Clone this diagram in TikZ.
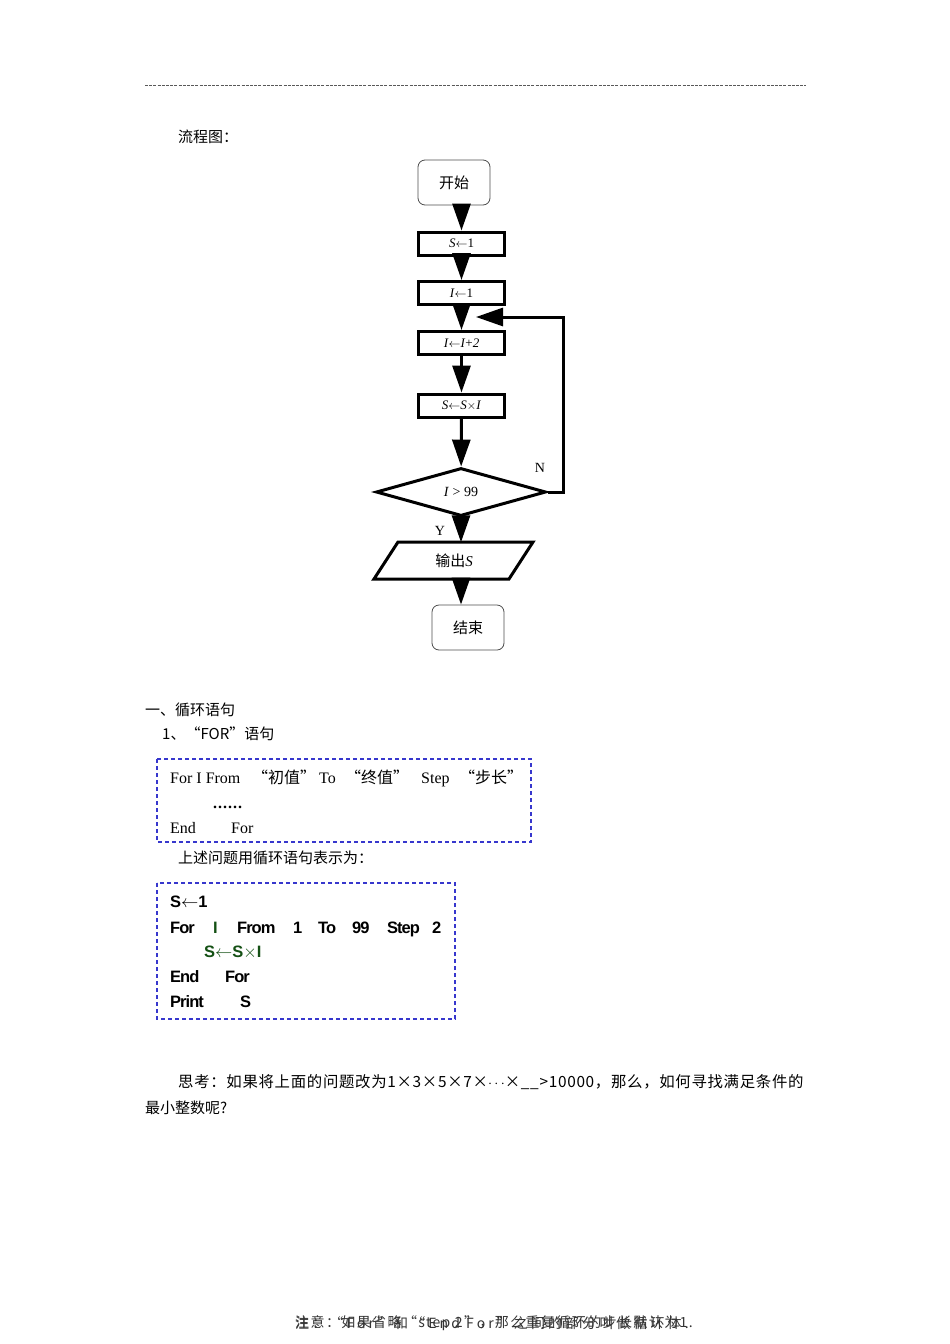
\documentclass[tikz,border=0pt]{standalone}
\usepackage{fontspec}
\setmainfont{Liberation Serif}
\newfontfamily\cjk{Noto Sans CJK SC}
\newfontfamily\cjkthink[LetterSpace=4.5]{Noto Sans CJK SC}
\newfontfamily\cjkwideA[LetterSpace=10]{Noto Sans CJK SC}
\newfontfamily\cjkwideB[LetterSpace=22]{Noto Sans CJK SC}
\newfontfamily\codefont[LetterSpace=-6]{Liberation Sans}
\usetikzlibrary{arrows.meta,shapes.geometric}
\definecolor{boxblue}{RGB}{55,55,205}
\definecolor{codegreen}{RGB}{20,80,20}
\begin{document}
\begin{tikzpicture}[x=1pt,y=-1pt,
  proc/.style={draw, line width=3pt, minimum width=86pt, minimum height=23pt, inner sep=0pt, font=\fontsize{13}{15}\selectfont},
  term/.style={draw=black!70, line width=0.8pt, rounded corners=7pt, minimum width=72pt, minimum height=45pt, inner sep=0pt, font=\cjk\fontsize{15}{18}\selectfont},
  flow/.style={line width=3pt, -{Triangle[width=18pt,length=27pt]}},
  txt/.style={anchor=west, inner sep=0pt, font=\cjk\fontsize{15}{18}\selectfont},
  ltxt/.style={anchor=base west, inner sep=0pt, font=\fontsize{16}{18}\selectfont},
  code/.style={anchor=base west, inner sep=0pt, font=\codefont\bfseries\fontsize{16.5}{18}\selectfont},
  dashbox/.style={draw=boxblue, line width=1.2pt, dash pattern=on 4pt off 3pt}
]
\useasboundingbox (0,0) rectangle (950,1344);

% header rule
\coordinate (hl) at (145,85);
\coordinate (hr) at (806,85);
\draw[black!65, line width=0.8pt, dash pattern=on 3pt off 1.2pt] (hl) -- (hr);

\node[txt] (title) at (178,137) {流程图：};

% flowchart
\node[term] (start) at (454,182.5) {开始};
\node[proc] (s1) at (461.5,243.5) {\textit{S}$\leftarrow$1};
\node[proc] (i1) at (461.5,293) {\textit{I}$\leftarrow$1};
\node[proc] (inc) at (461.5,343) {\textit{I}$\leftarrow$\textit{I}+\textit{2}};
\node[proc] (mul) at (461.5,405.5) {\textit{S}$\leftarrow$\textit{S}$\times$\textit{I}};
\node[diamond, draw, line width=3pt, minimum width=170pt, minimum height=48pt, inner sep=0pt, shape aspect=3.5, font=\fontsize{14}{16}\selectfont] (dia) at (461,492) {\textit{I} > 99};
\draw[line width=3pt] (398,542) -- (533,542) -- (509,579) -- (374,579) -- cycle;
\node[inner sep=0pt, minimum width=136pt, minimum height=37pt, font=\fontsize{15}{18}\selectfont] (out) at (454,561) {{\cjk 输出}\textit{S}};
\node[term] (endb) at (468,627.5) {结束};

\node[inner sep=0pt, font=\fontsize{14}{16}\selectfont] (nlab) at (540,468) {N};
\node[inner sep=0pt, font=\fontsize{14}{16}\selectfont] (ylab) at (440,531) {Y};

\draw[flow] (start.south -| s1.north) -- (s1.north);
\draw[flow] (s1) -- (i1);
\draw[flow] (i1) -- (inc);
\draw[flow] (inc) -- (mul);
\draw[flow] (mul) -- (dia);
\draw[flow] (dia.south) -- (dia.south |- out.north);
\draw[flow] (dia.south |- out.south) -- (dia.south |- endb.north);
\coordinate (lp) at (476,317);
\draw[flow] (dia.east) -- ++(16,0) |- (lp);

% section text
\node[txt] (sec) at (145,710) {一、循环语句};
\node[txt] (sub) at (162,734) {1、“FOR”语句};

\draw[dashbox] (157,759) rectangle (531,842);
\node[ltxt] (b1a) at (170,783.5) {For I From};
\node[ltxt, font=\cjk\fontsize{16}{18}\selectfont] (b1b) at (252,783.5) {“初值”};
\node[ltxt] (b1c) at (319,783.5) {To};
\node[ltxt, font=\cjk\fontsize{16}{18}\selectfont] (b1d) at (345,783.5) {“终值”};
\node[ltxt] (b1e) at (421,783.5) {Step};
\node[ltxt, font=\cjk\fontsize{16}{18}\selectfont] (b1f) at (459,783.5) {“步长”};
\node[ltxt, font=\bfseries\fontsize{16}{18}\selectfont] (b1g) at (213,808) {.\kern1pt.\kern1pt.\kern1pt.\kern1pt.\kern1pt.};
\node[ltxt] (b1h) at (170,833.5) {End};
\node[ltxt] (b1i) at (231,833.5) {For};

\node[txt] (desc) at (178,858) {上述问题用循环语句表示为：};

\draw[dashbox] (157,883) rectangle (455,1019);
\node[code] (c1) at (170,907) {S$\leftarrow$1};
\node[code] (c2a) at (170,933) {For};
\node[code, text=codegreen] (c2b) at (213,933) {I};
\node[code] (c2c) at (237,933) {From};
\node[code] (c2d) at (293,933) {1};
\node[code] (c2e) at (318,933) {To};
\node[code] (c2f) at (352,933) {99};
\node[code] (c2g) at (387,933) {Step};
\node[code] (c2h) at (432,933) {2};
\node[code, text=codegreen] (c3) at (204,957) {S$\leftarrow$S$\times$I};
\node[code] (c4a) at (170,982) {End};
\node[code] (c4b) at (225,982) {For};
\node[code] (c5a) at (170,1007) {Print};
\node[code] (c5b) at (240,1007) {S};

\node[txt, font=\cjkthink\fontsize{15.4}{18}\selectfont] (think1) at (178,1082) {思考：如果将上面的问题改为1×3×5×7×$\cdots$×\_\_>10000，那么，如何寻找满足条件的};
\node[txt] (think2) at (145,1108) {最小整数呢?};

% footer (two overlapping lines, as printed)
\node[txt, font=\cjkwideA\fontsize{14}{16}\selectfont, text=black!80] (fa) at (295,1323) {注意：如果省略“step 2”，那么重复循环的步长默认为1.};
\node[txt, font=\cjkwideB\fontsize{14}{16}\selectfont, text=black!80] (fb) at (295,1323) {注：“For”和“End For”之间的部分叫做循环体.};
\end{tikzpicture}
\end{document}
